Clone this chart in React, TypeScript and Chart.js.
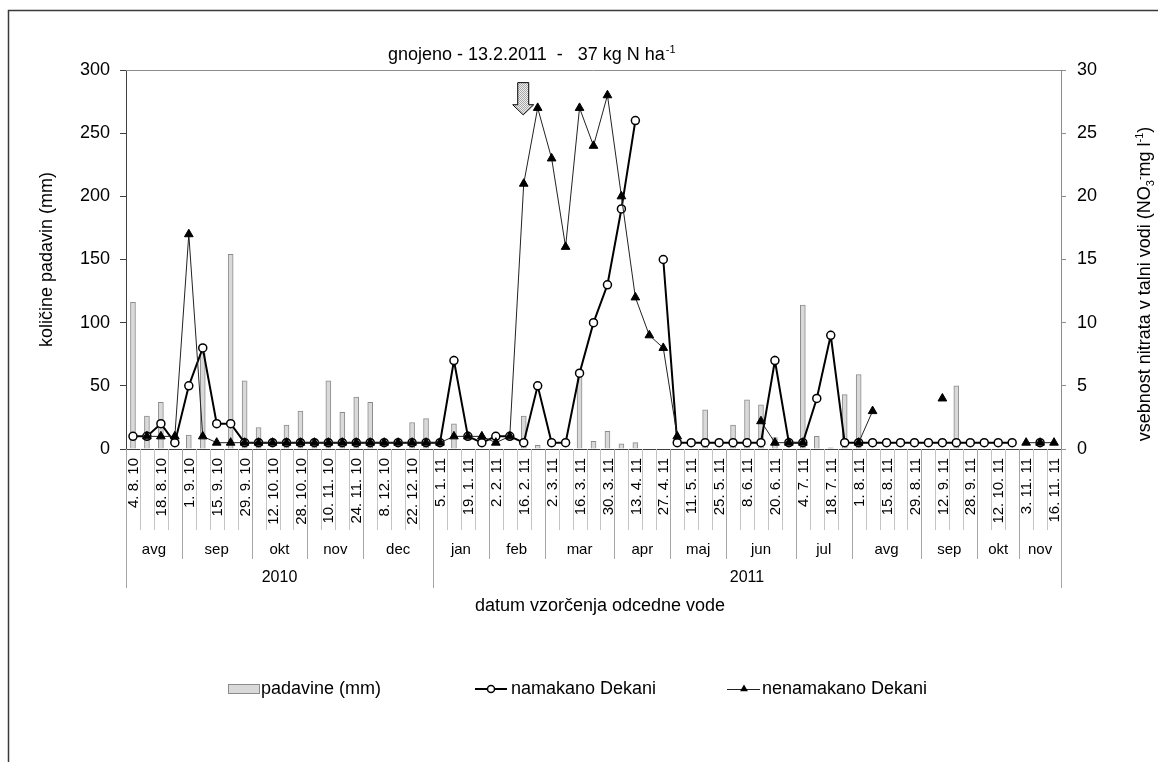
import React, { useEffect, useRef } from 'react';
import { Chart, registerables } from 'chart.js';

Chart.register(...registerables);

const FONT = '"Liberation Sans", Arial, Helvetica, sans-serif';

// Category (sampling date) labels – every second sample is labelled
const dates: string[] = [
  '4. 8. 10', '', '18. 8. 10', '', '1. 9. 10', '', '15. 9. 10', '', '29. 9. 10', '',
  '12. 10. 10', '', '28. 10. 10', '', '10. 11. 10', '', '24. 11. 10', '', '8. 12. 10', '',
  '22. 12. 10', '', '5. 1. 11', '', '19. 1. 11', '', '2. 2. 11', '', '16. 2. 11', '',
  '2. 3. 11', '', '16. 3. 11', '', '30. 3. 11', '', '13. 4. 11', '', '27. 4. 11', '',
  '11. 5. 11', '', '25. 5. 11', '', '8. 6. 11', '', '20. 6. 11', '', '4. 7. 11', '',
  '18. 7. 11', '', '1. 8. 11', '', '15. 8. 11', '', '29. 8. 11', '', '12. 9. 11', '',
  '28. 9. 11', '', '12. 10. 11', '', '3. 11. 11', '', '16. 11. 11',
];

// Month groups (label + first category index)
const monthLabels: string[] = ['avg', 'sep', 'okt', 'nov', 'dec', 'jan', 'feb', 'mar', 'apr', 'maj', 'jun', 'jul', 'avg', 'sep', 'okt', 'nov'];
const monthStarts: number[] = [0, 4, 9, 13, 17, 22, 26, 30, 35, 39, 43, 48, 52, 57, 61, 64];

// Year groups
const yearLabels: string[] = ['2010', '2011'];
const yearStarts: number[] = [0, 22];

// padavine (mm) – left axis
const padavine: (number | null)[] = [
  116, 26, 37, null, 11, 76, null, 154, 54, 17,
  null, 19, 30, 7, 54, 29, 41, 37, null, null,
  21, 24, null, 20, null, null, null, null, 26, 3,
  null, null, 57, 6, 14, 4, 5, null, null, null,
  null, 31, null, 19, 39, 35, 9, null, 114, 10,
  1, 43, 59, null, null, null, null, null, null, 50,
  null, null, null, null, null, null, null,
];

// namakano Dekani (NO3 mg/l) – right axis
const namakano: (number | null)[] = [
  1, 1, 2, 0.5, 5, 8, 2, 2, 0.5, 0.5,
  0.5, 0.5, 0.5, 0.5, 0.5, 0.5, 0.5, 0.5, 0.5, 0.5,
  0.5, 0.5, 0.5, 7, 1, 0.5, 1, 1, 0.5, 5,
  0.5, 0.5, 6, 10, 13, 19, 26, null, 15, 0.5,
  0.5, 0.5, 0.5, 0.5, 0.5, 0.5, 7, 0.5, 0.5, 4,
  9, 0.5, 0.5, 0.5, 0.5, 0.5, 0.5, 0.5, 0.5, 0.5,
  0.5, 0.5, 0.5, 0.5, null, 0.5, null,
];

// nenamakano Dekani (NO3 mg/l) – right axis
const nenamakano: (number | null)[] = [
  null, 1, 1, 1, 17, 1, 0.5, 0.5, 0.5, 0.5,
  0.5, 0.5, 0.5, 0.5, 0.5, 0.5, 0.5, 0.5, 0.5, 0.5,
  0.5, 0.5, 0.5, 1, 1, 1, 0.5, 1, 21, 27,
  23, 16, 27, 24, 28, 20, 12, 9, 8, 1,
  null, null, null, null, null, 2.2, 0.5, 0.5, 0.5, null,
  null, null, 0.5, 3, null, null, null, null, 4, null,
  null, null, null, null, 0.5, 0.5, 0.5,
];

const fertilizationIndex = 28; // arrow position (fertilisation 13.2.2011)

const titleText = 'gnojeno - 13.2.2011  -   37 kg N ha';
const titleSup = '-1';
const leftTitle = 'količine padavin (mm)';
const xTitle = 'datum vzorčenja odcedne vode';
const rightTitleParts: { t: string; s: 'n' | 'sub' | 'sup' }[] = [
  { t: 'vsebnost nitrata v talni vodi (NO', s: 'n' },
  { t: '3', s: 'sub' },
  { t: '-', s: 'sup' },
  { t: 'mg l', s: 'n' },
  { t: '-1', s: 'sup' },
  { t: ')', s: 'n' },
];
const legendLabels = ['padavine (mm)', 'namakano Dekani', 'nenamakano Dekani'];

function drawTriangle(ctx: CanvasRenderingContext2D, x: number, y: number, r: number) {
  ctx.beginPath();
  ctx.moveTo(x, y - r);
  ctx.lineTo(x + r * Math.sin((2 * Math.PI) / 3), y - r * Math.cos((2 * Math.PI) / 3));
  ctx.lineTo(x + r * Math.sin((4 * Math.PI) / 3), y - r * Math.cos((4 * Math.PI) / 3));
  ctx.closePath();
  ctx.fill();
}

const decor = {
  id: 'decor',
  beforeDraw(chart: any) {
    const ctx: CanvasRenderingContext2D = chart.ctx;
    ctx.save();
    ctx.fillStyle = '#ffffff';
    ctx.fillRect(0, 0, chart.width, chart.height);
    ctx.strokeStyle = '#3a3a3a';
    ctx.lineWidth = 1.5;
    ctx.strokeRect(8.5, 10.5, 1400, 1000);
    ctx.restore();
  },
  afterDraw(chart: any) {
    const ctx: CanvasRenderingContext2D = chart.ctx;
    const area = chart.chartArea;
    const xs = chart.scales.x;
    const y1 = chart.scales.y1;
    const n = dates.length;
    const w = (xs.right - xs.left) / n;
    ctx.save();

    // top border of plot
    ctx.strokeStyle = '#8c8c8c';
    ctx.lineWidth = 1;
    ctx.beginPath();
    ctx.moveTo(area.left, Math.round(area.top) + 0.5);
    ctx.lineTo(area.right, Math.round(area.top) + 0.5);
    ctx.stroke();

    // category / month / year separators
    const base = area.bottom;
    for (let i = 0; i <= n; i++) {
      const x = Math.round(xs.left + i * w) + 0.5;
      let bottom = 530;
      let color = '#c4c4c4';
      if (i === 0 || i === n || yearStarts.includes(i)) {
        bottom = 588;
        color = '#a6a6a6';
      } else if (monthStarts.includes(i)) {
        bottom = 559;
        color = '#a6a6a6';
      }
      ctx.strokeStyle = color;
      ctx.beginPath();
      ctx.moveTo(x, base);
      ctx.lineTo(x, bottom);
      ctx.stroke();
    }

    ctx.fillStyle = '#000';
    // date labels
    ctx.font = `15px ${FONT}`;
    ctx.textAlign = 'right';
    ctx.textBaseline = 'middle';
    for (let i = 0; i < n; i++) {
      if (!dates[i]) continue;
      const x = xs.getPixelForValue(i);
      ctx.save();
      ctx.translate(x + 1, 458);
      ctx.rotate(-Math.PI / 2);
      ctx.fillText(dates[i], 0, 0);
      ctx.restore();
    }
    // month labels
    ctx.textAlign = 'center';
    ctx.font = `15px ${FONT}`;
    for (let m = 0; m < monthLabels.length; m++) {
      const s = monthStarts[m];
      const e = m + 1 < monthStarts.length ? monthStarts[m + 1] : n;
      ctx.fillText(monthLabels[m], xs.left + ((s + e) / 2) * w, 550);
    }
    // year labels
    ctx.font = `16px ${FONT}`;
    for (let k = 0; k < yearLabels.length; k++) {
      const s = yearStarts[k];
      const e = k + 1 < yearStarts.length ? yearStarts[k + 1] : n;
      ctx.fillText(yearLabels[k], xs.left + ((s + e) / 2) * w, 578);
    }
    // x title
    ctx.font = `18px ${FONT}`;
    ctx.fillText(xTitle, 600, 606);

    // chart title
    ctx.textAlign = 'left';
    ctx.textBaseline = 'alphabetic';
    ctx.font = `18px ${FONT}`;
    ctx.fillText(titleText, 388, 60);
    const tw = ctx.measureText(titleText).width;
    ctx.font = `11px ${FONT}`;
    ctx.fillText(titleSup, 388 + tw + 1, 53);

    // right axis title (rotated, reading bottom to top)
    ctx.save();
    ctx.translate(1150, 284);
    ctx.rotate(-Math.PI / 2);
    let total = 0;
    for (const p of rightTitleParts) {
      ctx.font = p.s === 'n' ? `18px ${FONT}` : `11px ${FONT}`;
      total += ctx.measureText(p.t).width;
    }
    let cx = -total / 2;
    for (const p of rightTitleParts) {
      ctx.font = p.s === 'n' ? `18px ${FONT}` : `11px ${FONT}`;
      const dy = p.s === 'sub' ? 4 : p.s === 'sup' ? -7 : 0;
      ctx.fillText(p.t, cx, dy);
      cx += ctx.measureText(p.t).width;
    }
    ctx.restore();

    // fertilisation arrow
    const ax = xs.getPixelForValue(fertilizationIndex) - 0.5;
    const yTop = y1.getPixelForValue(29);
    const yHead = y1.getPixelForValue(27.25);
    const yTip = y1.getPixelForValue(26.45);
    const pc = document.createElement('canvas');
    pc.width = 2;
    pc.height = 2;
    const pctx = pc.getContext('2d')!;
    pctx.fillStyle = '#eeeeee';
    pctx.fillRect(0, 0, 2, 2);
    pctx.fillStyle = '#a8a8a8';
    pctx.fillRect(0, 0, 1, 1);
    pctx.fillRect(1, 1, 1, 1);
    const pat = ctx.createPattern(pc, 'repeat');
    ctx.beginPath();
    ctx.moveTo(ax - 5.5, yTop);
    ctx.lineTo(ax + 5.5, yTop);
    ctx.lineTo(ax + 5.5, yHead);
    ctx.lineTo(ax + 10.5, yHead);
    ctx.lineTo(ax, yTip);
    ctx.lineTo(ax - 10.5, yHead);
    ctx.lineTo(ax - 5.5, yHead);
    ctx.closePath();
    ctx.fillStyle = pat || '#cccccc';
    ctx.fill();
    ctx.strokeStyle = '#000';
    ctx.lineWidth = 1;
    ctx.stroke();

    // legend
    const ly = 689;
    ctx.font = `18px ${FONT}`;
    ctx.textBaseline = 'middle';
    ctx.textAlign = 'left';
    ctx.fillStyle = '#d9d9d9';
    ctx.fillRect(228.5, 684.5, 31, 9);
    ctx.strokeStyle = '#8c8c8c';
    ctx.strokeRect(228.5, 684.5, 31, 9);
    ctx.fillStyle = '#000';
    ctx.fillText(legendLabels[0], 261, ly);

    ctx.strokeStyle = '#000';
    ctx.lineWidth = 2;
    ctx.beginPath();
    ctx.moveTo(475, ly);
    ctx.lineTo(507, ly);
    ctx.stroke();
    ctx.beginPath();
    ctx.arc(491, ly, 3.5, 0, Math.PI * 2);
    ctx.fillStyle = '#fff';
    ctx.fill();
    ctx.lineWidth = 1.5;
    ctx.stroke();
    ctx.fillStyle = '#000';
    ctx.fillText(legendLabels[1], 511, ly);

    ctx.strokeStyle = '#222';
    ctx.lineWidth = 1;
    ctx.beginPath();
    ctx.moveTo(727, ly + 0.5);
    ctx.lineTo(760, ly + 0.5);
    ctx.stroke();
    ctx.fillStyle = '#000';
    drawTriangle(ctx, 744, ly, 4.5);
    ctx.fillText(legendLabels[2], 762, ly);

    ctx.restore();
  },
};

export default function App() {
  const ref = useRef<HTMLCanvasElement>(null);
  useEffect(() => {
    document.body.style.margin = '0';
    Chart.defaults.font.family = FONT;
    const chart = new Chart(ref.current as HTMLCanvasElement, {
      type: 'bar',
      data: {
        labels: dates,
        datasets: [
          {
            type: 'line',
            label: legendLabels[2],
            data: nenamakano,
            yAxisID: 'y1',
            borderColor: '#222',
            borderWidth: 1,
            pointStyle: 'triangle',
            pointRadius: 5,
            pointBackgroundColor: '#000',
            pointBorderColor: '#000',
            pointBorderWidth: 1,
            spanGaps: false,
            tension: 0,
            fill: false,
            order: 1,
          } as any,
          {
            type: 'line',
            label: legendLabels[1],
            data: namakano,
            yAxisID: 'y1',
            borderColor: '#000',
            borderWidth: 2,
            pointStyle: 'circle',
            pointRadius: 4,
            pointBackgroundColor: '#fff',
            pointBorderColor: '#000',
            pointBorderWidth: 1.5,
            spanGaps: false,
            tension: 0,
            fill: false,
            order: 2,
          } as any,
          {
            type: 'bar',
            label: legendLabels[0],
            data: padavine,
            yAxisID: 'y',
            backgroundColor: '#d9d9d9',
            borderColor: '#8c8c8c',
            borderWidth: 1,
            barThickness: 5,
            order: 3,
          } as any,
        ],
      },
      options: {
        responsive: false,
        devicePixelRatio: 1,
        animation: false,
        layout: { padding: { top: 70, left: 0, right: 0, bottom: 0 } },
        plugins: {
          legend: { display: false },
          tooltip: { enabled: false },
          title: { display: false },
        },
        scales: {
          x: {
            offset: true,
            ticks: { display: false },
            grid: { display: false },
            border: { display: true, color: '#404040', width: 1 },
            afterFit: (s: any) => {
              s.height = 313;
            },
          },
          y: {
            position: 'left',
            min: 0,
            max: 300,
            ticks: { stepSize: 50, color: '#000', font: { size: 18, family: FONT }, padding: 10 },
            grid: { drawOnChartArea: false, drawTicks: true, tickLength: 6, color: '#404040' },
            border: { display: true, color: '#404040', width: 1 },
            title: {
              display: true,
              text: leftTitle,
              color: '#000',
              font: { size: 18, family: FONT },
              padding: { top: 36, bottom: 0 },
            },
            afterFit: (s: any) => {
              s.width = 126;
            },
          },
          y1: {
            position: 'right',
            min: 0,
            max: 30,
            ticks: { stepSize: 5, color: '#000', font: { size: 18, family: FONT }, padding: 11 },
            grid: { drawOnChartArea: false, drawTicks: true, tickLength: 5, color: '#8c8c8c' },
            border: { display: true, color: '#8c8c8c', width: 1 },
            afterFit: (s: any) => {
              s.width = 97;
            },
          },
        },
      } as any,
      plugins: [decor],
    });
    return () => chart.destroy();
  }, []);
  return (
    <div style={{ width: 1158, height: 762, position: 'relative' }}>
      <canvas ref={ref} width={1158} height={762} style={{ display: 'block', width: 1158, height: 762 }} />
    </div>
  );
}
